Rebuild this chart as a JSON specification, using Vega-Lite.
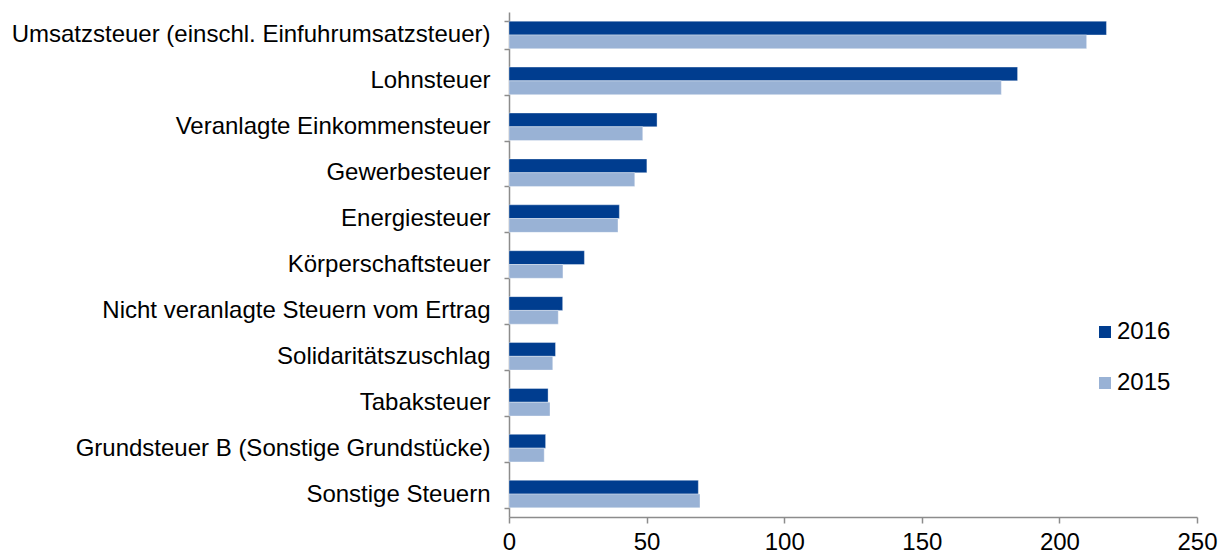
{
  "$schema": "https://vega.github.io/schema/vega-lite/v6.json",
  "width": 688,
  "height": 505,
  "autosize": {"type": "none"},
  "padding": {"left": 509, "top": 12, "right": 22, "bottom": 40},
  "background": "white",
  "config": {
    "view": {"stroke": null},
    "font": "Liberation Sans",
    "axis": {"grid": false, "domainColor": "#8c8c8c", "tickColor": "#8c8c8c", "domainWidth": 1.5, "tickWidth": 1.5, "labelColor": "#000000", "labelFont": "Liberation Sans", "labelFontSize": 24}
  },
  "data": {
    "values": [
      {"steuer": "Umsatzsteuer (einschl. Einfuhrumsatzsteuer)", "jahr": "2016", "wert": 217.1},
      {"steuer": "Umsatzsteuer (einschl. Einfuhrumsatzsteuer)", "jahr": "2015", "wert": 209.9},
      {"steuer": "Lohnsteuer", "jahr": "2016", "wert": 184.8},
      {"steuer": "Lohnsteuer", "jahr": "2015", "wert": 178.9},
      {"steuer": "Veranlagte Einkommensteuer", "jahr": "2016", "wert": 53.8},
      {"steuer": "Veranlagte Einkommensteuer", "jahr": "2015", "wert": 48.6},
      {"steuer": "Gewerbesteuer", "jahr": "2016", "wert": 50.1},
      {"steuer": "Gewerbesteuer", "jahr": "2015", "wert": 45.7},
      {"steuer": "Energiesteuer", "jahr": "2016", "wert": 40.1},
      {"steuer": "Energiesteuer", "jahr": "2015", "wert": 39.6},
      {"steuer": "Körperschaftsteuer", "jahr": "2016", "wert": 27.4},
      {"steuer": "Körperschaftsteuer", "jahr": "2015", "wert": 19.6},
      {"steuer": "Nicht veranlagte Steuern vom Ertrag", "jahr": "2016", "wert": 19.5},
      {"steuer": "Nicht veranlagte Steuern vom Ertrag", "jahr": "2015", "wert": 17.9},
      {"steuer": "Solidaritätszuschlag", "jahr": "2016", "wert": 16.9},
      {"steuer": "Solidaritätszuschlag", "jahr": "2015", "wert": 15.9},
      {"steuer": "Tabaksteuer", "jahr": "2016", "wert": 14.2},
      {"steuer": "Tabaksteuer", "jahr": "2015", "wert": 14.9},
      {"steuer": "Grundsteuer B (Sonstige Grundstücke)", "jahr": "2016", "wert": 13.3},
      {"steuer": "Grundsteuer B (Sonstige Grundstücke)", "jahr": "2015", "wert": 12.8},
      {"steuer": "Sonstige Steuern", "jahr": "2016", "wert": 68.8},
      {"steuer": "Sonstige Steuern", "jahr": "2015", "wert": 69.4}
    ]
  },
  "mark": {"type": "bar", "stroke": "#ffffff", "strokeWidth": 0.6, "strokeOpacity": 0.6},
  "encoding": {
    "y": {
      "field": "steuer",
      "type": "nominal",
      "sort": null,
      "scale": {"paddingInner": 0.4, "paddingOuter": 0.2},
      "axis": {"title": null, "tickBand": "extent", "tickSize": 5, "labelPadding": 14, "labelLimit": 600}
    },
    "yOffset": {"field": "jahr", "type": "nominal", "sort": ["2016", "2015"]},
    "x": {
      "field": "wert",
      "type": "quantitative",
      "scale": {"domain": [0, 250], "nice": false},
      "axis": {"title": null, "values": [0, 50, 100, 150, 200, 250], "tickSize": 6, "labelPadding": 7, "labelFlush": false}
    },
    "color": {
      "field": "jahr",
      "type": "nominal",
      "scale": {"domain": ["2016", "2015"], "range": ["#003d8f", "#99b2d5"]},
      "legend": {
        "title": null,
        "orient": "none",
        "legendX": 584,
        "legendY": 308,
        "symbolType": "square",
        "symbolSize": 144,
        "symbolStrokeWidth": 0,
        "labelFontSize": 24,
        "labelFont": "Liberation Sans",
        "labelColor": "#000000",
        "rowPadding": 27,
        "labelOffset": 0
      }
    }
  }
}
